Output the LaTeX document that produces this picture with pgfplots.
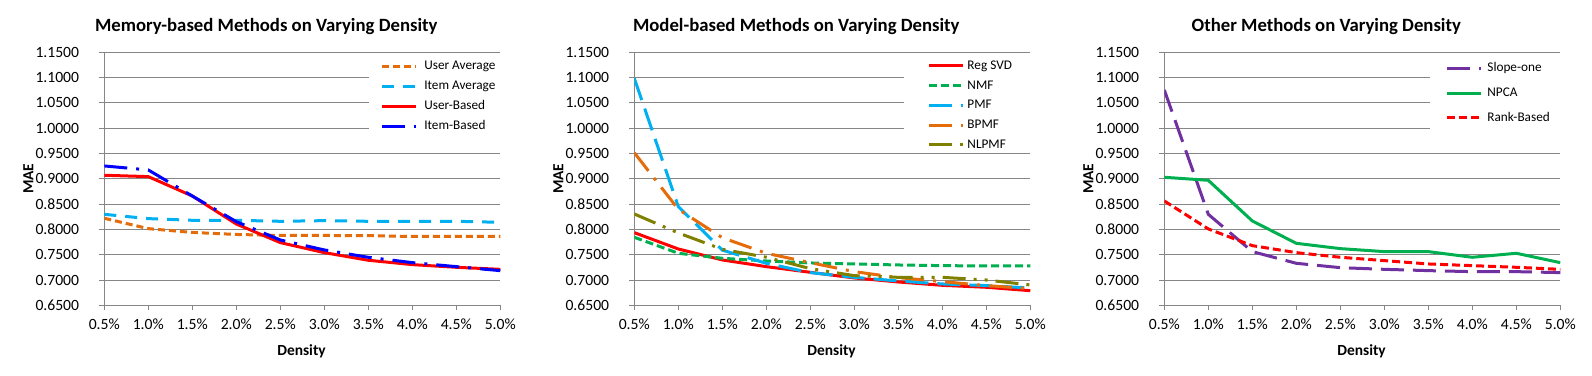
\documentclass[border=0pt]{standalone}
\usepackage{fontspec}
\setmainfont{Carlito}
\usepackage{pgfplots}
\pgfplotsset{compat=1.18}
\definecolor{cOrange}{RGB}{228,108,10}
\definecolor{cCyan}{RGB}{0,176,240}
\definecolor{cRed}{RGB}{255,0,0}
\definecolor{cBlue}{RGB}{0,0,255}
\definecolor{cGreen}{RGB}{0,176,80}
\definecolor{cOlive}{RGB}{128,128,0}
\definecolor{cPurple}{RGB}{112,48,160}
\definecolor{gridgray}{RGB}{134,134,134}
\newcommand{\tf}[1]{\mbox{\fontsize{15.7}{18}\selectfont #1}}
\pgfplotsset{
  panel/.style={
    scale only axis, width=396bp, height=253bp,
    xmin=0.5, xmax=5, ymin=0.65, ymax=1.15,
    axis lines*=left, axis line style={draw=gridgray, line width=1bp, -},
    tick pos=left, tick align=outside, major tick length=5bp,
    tick style={draw=gridgray, line width=1bp},
    ymajorgrids, major grid style={draw=gridgray, line width=1bp},
    xtick={0.5,1.0,1.5,2.0,2.5,3.0,3.5,4.0,4.5,5.0},
    xticklabels={\tf{0.5\%},\tf{1.0\%},\tf{1.5\%},\tf{2.0\%},\tf{2.5\%},\tf{3.0\%},\tf{3.5\%},\tf{4.0\%},\tf{4.5\%},\tf{5.0\%}},
    ytick={0.65,0.70,0.75,0.80,0.85,0.90,0.95,1.00,1.05,1.10,1.15},
    yticklabels={\tf{0.6500},\tf{0.7000},\tf{0.7500},\tf{0.8000},\tf{0.8500},\tf{0.9000},\tf{0.9500},\tf{1.0000},\tf{1.0500},\tf{1.1000},\tf{1.1500}},
    xticklabel style={anchor=base, inner sep=0pt, yshift=-19bp},
    yticklabel style={anchor=east, inner sep=0pt, xshift=-20bp},
    title style={at={(axis description cs:0.409,1)}, anchor=base, yshift=14.5bp, inner sep=0pt, font=\bfseries\fontsize{18.8}{22}\selectfont},
    xlabel={Density}, ylabel={MAE},
    label style={font=\bfseries\fontsize{15.5}{18}\selectfont},
    xlabel style={at={(axis description cs:0.498,0)}, anchor=center, yshift=-46bp},
    ylabel style={at={(axis description cs:-0.192,0.5)}, anchor=center},
    legend image code/.code={\draw[#1] (0bp,0bp) -- (33.7bp,0bp);},
    legend cell align=left,
    legend style={anchor=north west, fill=white, draw=none, inner ysep=0pt,
      font=\fontsize{13.3}{16}\selectfont,
      nodes={inner sep=0pt, text height=9.5bp, text depth=2.5bp}},
    every axis plot/.append style={line width=3bp, line join=round},
  },
  dUA/.style={cOrange, dash pattern=on 7bp off 4bp},
  dIA/.style={cCyan, dash pattern=on 12bp off 9bp},
  dLDD/.style={dash pattern=on 23bp off 9bp on 3bp off 9bp},
  dLD/.style={dash pattern=on 23bp off 9bp},
  dLDDD/.style={dash pattern=on 23bp off 8bp on 3bp off 8bp on 3bp off 8bp},
  dShort/.style={dash pattern=on 8bp off 4bp},
}
\begin{document}
\begin{tikzpicture}
\useasboundingbox (0,0) rectangle (1592bp,376bp);
% ---------- Panel 1 ----------
\begin{axis}[panel, at={(104.3bp,70.7bp)}, anchor=south west,
  title={Memory-based Methods on Varying Density},
  legend style={at={(axis description cs:0.6667,0.970)}, inner xsep=12.4bp, row sep=8bp,
    /tikz/every odd column/.append style={column sep=6.7bp}}]
\addplot[dUA] coordinates {(0.5,0.822) (1.0,0.8015) (1.5,0.794) (2.0,0.790) (2.5,0.788) (3.0,0.788) (3.5,0.7877) (4.0,0.786) (4.5,0.786) (5.0,0.786)};
\addlegendentry{User Average}
\addplot[dIA] coordinates {(0.5,0.8298) (1.0,0.8213) (1.5,0.818) (2.0,0.818) (2.5,0.816) (3.0,0.8173) (3.5,0.816) (4.0,0.816) (4.5,0.816) (5.0,0.814)};
\addlegendentry{Item Average}
\addplot[cRed, solid] coordinates {(0.5,0.907) (1.0,0.9043) (1.5,0.866) (2.0,0.8107) (2.5,0.7739) (3.0,0.7541) (3.5,0.739) (4.0,0.7304) (4.5,0.7251) (5.0,0.7211)};
\addlegendentry{User-Based}
\addplot[cBlue, dLDD] coordinates {(0.5,0.9254) (1.0,0.9175) (1.5,0.866) (2.0,0.8153) (2.5,0.7791) (3.0,0.7594) (3.5,0.7449) (4.0,0.7343) (4.5,0.7264) (5.0,0.7185)};
\addlegendentry{Item-Based}
\end{axis}
% ---------- Panel 2 ----------
\begin{axis}[panel, at={(634.3bp,70.7bp)}, anchor=south west,
  title={Model-based Methods on Varying Density},
  legend style={at={(axis description cs:0.680,0.9707)}, inner xsep=23.6bp, row sep=7.7bp,
    /tikz/every odd column/.append style={column sep=3.4bp}}]
\addplot[cRed, solid] coordinates {(0.5,0.7936) (1.0,0.7613) (1.5,0.7396) (2.0,0.7264) (2.5,0.7152) (3.0,0.704) (3.5,0.6961) (4.0,0.6895) (4.5,0.6856) (5.0,0.6789)};
\addlegendentry{Reg SVD}
\addplot[cGreen, dShort] coordinates {(0.5,0.7844) (1.0,0.7528) (1.5,0.7429) (2.0,0.7376) (2.5,0.7337) (3.0,0.7317) (3.5,0.7297) (4.0,0.7284) (4.5,0.7277) (5.0,0.7277)};
\addlegendentry{NMF}
\addplot[cCyan, dLD] coordinates {(0.5,1.0986) (1.0,0.845) (1.5,0.759) (2.0,0.733) (2.5,0.7146) (3.0,0.7053) (3.5,0.6981) (4.0,0.6922) (4.5,0.6889) (5.0,0.6843)};
\addlegendentry{PMF}
\addplot[cOrange, dLDD] coordinates {(0.5,0.9516) (1.0,0.8397) (1.5,0.7836) (2.0,0.7528) (2.5,0.7343) (3.0,0.7165) (3.5,0.7047) (4.0,0.6968) (4.5,0.6889) (5.0,0.683)};
\addlegendentry{BPMF}
\addplot[cOlive, dLDDD] coordinates {(0.5,0.8305) (1.0,0.793) (1.5,0.7607) (2.0,0.745) (2.5,0.7225) (3.0,0.7086) (3.5,0.7053) (4.0,0.7053) (4.5,0.700) (5.0,0.6902)};
\addlegendentry{NLPMF}
\end{axis}
% ---------- Panel 3 ----------
\begin{axis}[panel, at={(1164.3bp,70.7bp)}, anchor=south west,
  title={Other Methods on Varying Density},
  legend style={at={(axis description cs:0.6715,0.9885)}, inner xsep=15.2bp, inner ysep=7bp, row sep=12.7bp,
    /tikz/every odd column/.append style={column sep=5.1bp}}]
\addplot[cPurple, dLD] coordinates {(0.5,1.0756) (1.0,0.8298) (1.5,0.7561) (2.0,0.733) (2.5,0.7244) (3.0,0.7211) (3.5,0.7185) (4.0,0.7165) (4.5,0.7165) (5.0,0.7146)};
\addlegendentry{Slope-one}
\addplot[cGreen, solid] coordinates {(0.5,0.903) (1.0,0.897) (1.5,0.8167) (2.0,0.7725) (2.5,0.762) (3.0,0.7561) (3.5,0.7561) (4.0,0.7449) (4.5,0.7528) (5.0,0.7343)};
\addlegendentry{NPCA}
\addplot[cRed, dShort] coordinates {(0.5,0.8562) (1.0,0.8009) (1.5,0.7679) (2.0,0.7541) (2.5,0.7449) (3.0,0.7383) (3.5,0.7317) (4.0,0.7284) (4.5,0.7251) (5.0,0.7211)};
\addlegendentry{Rank-Based}
\end{axis}
\end{tikzpicture}
\end{document}
